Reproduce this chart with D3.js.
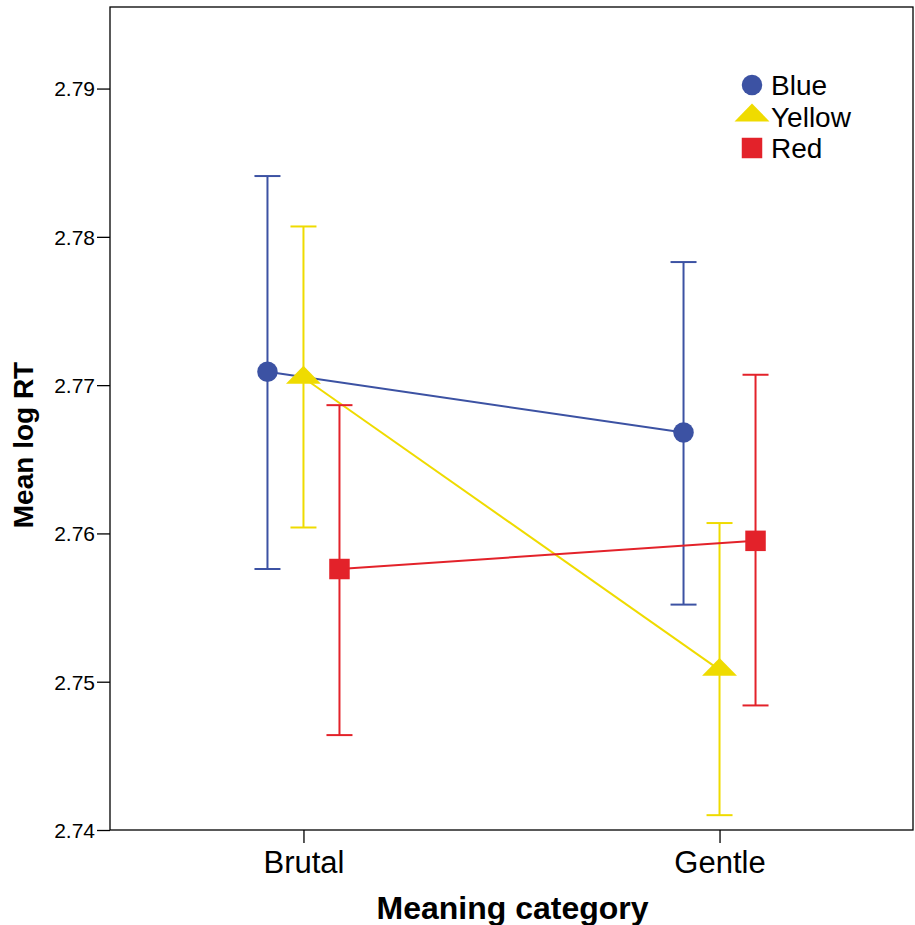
<!DOCTYPE html>
<html>
<head>
<meta charset="utf-8">
<script src="https://cdn.jsdelivr.net/npm/d3@7"></script>
<style>
body { margin: 0; background: #fff; }
text { font-family: "Liberation Sans", Arial, sans-serif; }
</style>
</head>
<body>
<script>
// data
const categories = ["Brutal", "Gentle"];
const seriesNames = ["Blue", "Yellow", "Red"];
const seriesColors = ["#3c52a3", "#efdb00", "#e3222a"];

const blueMean = [2.7709, 2.7668];
const blueLow = [2.7576, 2.7552];
const blueHigh = [2.7841, 2.7783];

const yellowMean = [2.7705, 2.7508];
const yellowLow = [2.7604, 2.7410];
const yellowHigh = [2.7807, 2.7607];

const redMean = [2.7576, 2.7595];
const redLow = [2.7464, 2.7484];
const redHigh = [2.76865, 2.7707];

const yTicks = [2.74, 2.75, 2.76, 2.77, 2.78, 2.79];

const series = [
    {name: "Blue", mean: blueMean, low: blueLow, high: blueHigh},
    {name: "Yellow", mean: yellowMean, low: yellowLow, high: yellowHigh},
    {name: "Red", mean: redMean, low: redLow, high: redHigh}
];

const w = 915;
const h = 925;
const plotL = 110, plotR = 913, plotT = 7, plotB = 830;

const svg = d3.select("body")
.append("svg")
.attr("width", w)
.attr("height", h)

const x = d3.scalePoint()
.domain(categories)
.range([plotL, plotR])
.padding(0.465)

// offset of each series around its category
const dx = d3.scalePoint()
.domain(seriesNames)
.range([-36, 36])

const y = d3.scaleLinear()
.domain([2.74, 2.7955])
.range([plotB, plotT])

const color = d3.scaleOrdinal()
.domain(seriesNames)
.range(seriesColors)

// frame
svg.append("rect")
.attr("x", plotL)
.attr("y", plotT)
.attr("width", plotR - plotL)
.attr("height", plotB - plotT)
.attr("fill", "none")
.attr("stroke", "#000")
.attr("stroke-width", 1.3)

// y axis
const yAxis = svg.append("g")
.attr("transform", `translate(${plotL},0)`)
.call(d3.axisLeft(y).tickValues(yTicks).tickSize(13).tickPadding(2).tickFormat(d3.format(".2f")))
yAxis.select(".domain").remove()
yAxis.selectAll("text")
.style("font-size", "21px")
.attr("fill", "#000")
.attr("dy", "0.35em")
yAxis.selectAll("line").attr("stroke-width", 1.3)

// x axis
const xAxis = svg.append("g")
.attr("transform", `translate(0,${plotB})`)
.call(d3.axisBottom(x).tickSize(13).tickPadding(8))
xAxis.select(".domain").remove()
xAxis.selectAll("text")
.style("font-size", "31px")
.attr("fill", "#000")
xAxis.selectAll("line").attr("stroke-width", 1.3)

// axis titles
svg.append("text")
.attr("x", (plotL + plotR) / 2 + 1)
.attr("y", 919)
.attr("text-anchor", "middle")
.style("font-size", "32px")
.style("font-weight", "bold")
.text("Meaning category")

svg.append("text")
.attr("transform", "translate(33,445) rotate(-90)")
.attr("text-anchor", "middle")
.style("font-size", "28px")
.style("font-weight", "bold")
.text("Mean log RT")

const px = (s, i) => x(categories[i]) + dx(s.name);

const groups = svg.selectAll("g.series")
.data(series)
.enter()
.append("g")
.attr("class", "series")
.attr("stroke", (d) => color(d.name))
.attr("fill", (d) => color(d.name))

// error bars
groups.each(function(s) {
    const g = d3.select(this);
    categories.forEach((c, i) => {
        const cx = px(s, i);
        g.append("line")
        .attr("x1", cx).attr("x2", cx)
        .attr("y1", y(s.low[i])).attr("y2", y(s.high[i]))
        .attr("stroke-width", 2)
        g.append("line")
        .attr("x1", cx - 13).attr("x2", cx + 13)
        .attr("y1", y(s.high[i])).attr("y2", y(s.high[i]))
        .attr("stroke-width", 2)
        g.append("line")
        .attr("x1", cx - 13).attr("x2", cx + 13)
        .attr("y1", y(s.low[i])).attr("y2", y(s.low[i]))
        .attr("stroke-width", 2)
    })
})

// connecting lines
groups.append("path")
.attr("fill", "none")
.attr("stroke-width", 2)
.attr("d", (s) => d3.line()(categories.map((c, i) => [px(s, i), y(s.mean[i])])))

// markers
const symbolFor = {
    Blue: d3.symbol(d3.symbolCircle, 330),
    Yellow: d3.symbol(d3.symbolTriangle, 290),
    Red: d3.symbol(d3.symbolSquare, 420)
};

groups.each(function(s) {
    d3.select(this).selectAll("path.marker")
    .data(categories)
    .enter()
    .append("path")
    .attr("class", "marker")
    .attr("stroke", "none")
    .attr("d", symbolFor[s.name])
    .attr("transform", (c, i) => s.name === "Yellow"
        ? `translate(${px(s, i)},${y(s.mean[i])}) scale(1.35,0.8)`
        : `translate(${px(s, i)},${y(s.mean[i])})`)
})

// legend
const legend = svg.selectAll("g.legend")
.data(seriesNames)
.enter()
.append("g")
.attr("class", "legend")
.attr("transform", (d, i) => `translate(752,${85 + i * 31.5})`)

legend.append("path")
.attr("d", (d) => symbolFor[d]())
.attr("fill", (d) => color(d))
.attr("transform", (d) => d === "Yellow" ? "translate(0,-1) scale(1.35,0.8)" : null)

legend.append("text")
.attr("x", 19)
.attr("dy", "0.36em")
.style("font-size", "28px")
.text((d) => d)
</script>
</body>
</html>
